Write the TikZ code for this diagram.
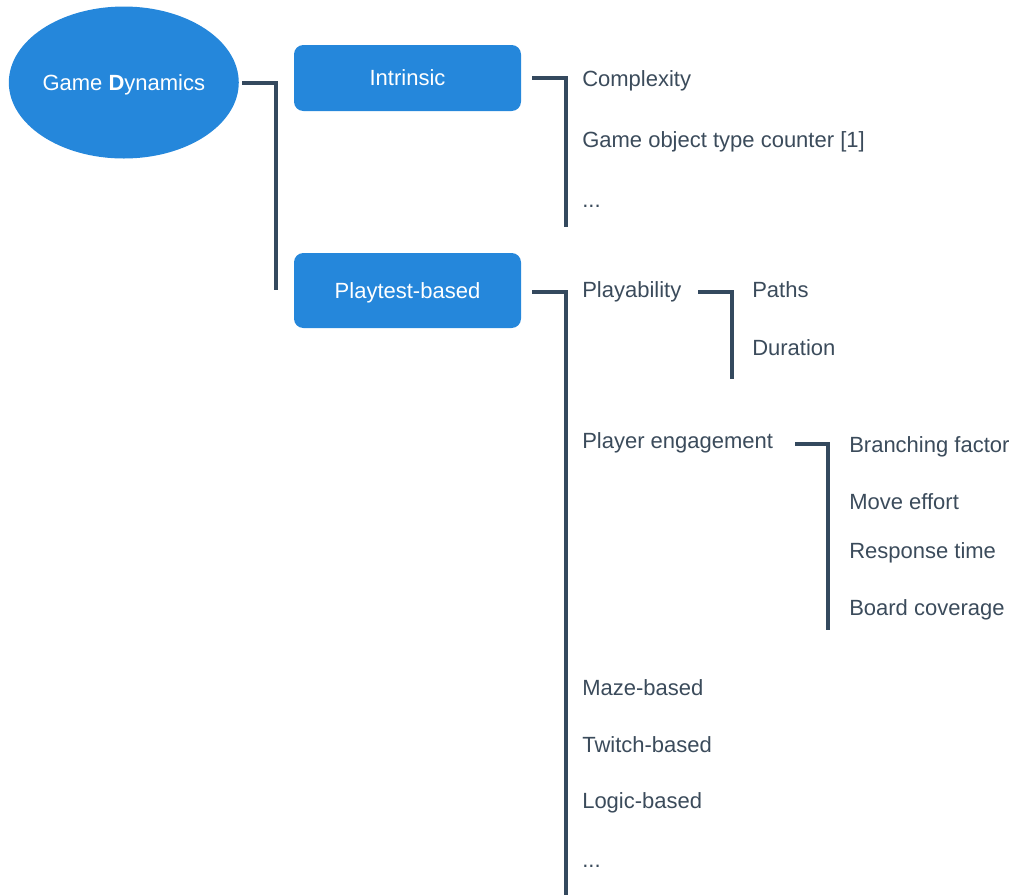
\documentclass[tikz,border=0pt]{standalone}
\usepackage{fontspec}
\setmainfont{Liberation Sans}
\usetikzlibrary{shapes.geometric}
\definecolor{gdblue}{HTML}{2587DB}
\definecolor{slate}{HTML}{34495E}
\definecolor{txt}{HTML}{3B4B5B}
\tikzset{
  conn/.style={draw=slate, line width=3pt},
  rootnode/.style={ellipse, fill=gdblue, draw=none, minimum width=227*0.75pt, minimum height=152*0.75pt, inner sep=0pt, text=white, font=\fontsize{16.5pt}{19pt}\selectfont, text height=11.8pt, text depth=0pt},
  catbox/.style={rectangle, rounded corners=7pt, fill=gdblue, draw=none, minimum width=227*0.75pt, inner sep=0pt, text=white, font=\fontsize{16.5pt}{19pt}\selectfont, text height=11.8pt, text depth=0pt},
  leaf/.style={anchor=base west, inner sep=0pt, text=txt, font=\fontsize{16.5pt}{19pt}\selectfont},
}
\begin{document}
\begin{tikzpicture}[x=0.75pt, y=-0.75pt]
\useasboundingbox (0,0) rectangle (1018,894);
% root
\node[rootnode] (gd) at (123.8,82.5) {Game \textbf{D}ynamics};
% categories
\node[catbox, minimum height=66*0.75pt] (intr) at (407.5,78) {Intrinsic};
\node[catbox, minimum height=75*0.75pt] (play) at (407.5,290.5) {Playtest-based};
% leaves under Intrinsic
\node[leaf] (cplx) at (582,86) {Complexity};
\node[leaf] (gotc) at (582,147) {Game object type counter [1]};
\node[leaf] (idots) at (582,207) {...};
% leaves under Playtest-based
\node[leaf] (playab) at (582,297) {Playability};
\node[leaf] (paths) at (752,297) {Paths};
\node[leaf] (dur) at (752,355) {Duration};
\node[leaf] (engage) at (582,448) {Player engagement};
\node[leaf] (branch) at (849,452) {Branching factor};
\node[leaf] (move) at (849,509) {Move effort};
\node[leaf] (resp) at (849,558) {Response time};
\node[leaf] (board) at (849,615) {Board coverage};
\node[leaf] (maze) at (582,695) {Maze-based};
\node[leaf] (twitch) at (582,752) {Twitch-based};
\node[leaf] (logic) at (582,808) {Logic-based};
\node[leaf] (pdots) at (582,867) {...};
% bracket coordinates
\coordinate (s0) at (242,83);
\coordinate (e0) at (276,290);
\coordinate (s1) at (532,78);
\coordinate (e1) at (566,227);
\coordinate (s2) at (532,292);
\coordinate (e2) at (566,896);
\coordinate (s3) at (698,292);
\coordinate (e3) at (732,379);
\coordinate (s4) at (795,444);
\coordinate (e4) at (828,630);
% connectors
\draw[conn] (s0) -| (e0);
\draw[conn] (s1) -| (e1);
\draw[conn] (s2) -| (e2);
\draw[conn] (s3) -| (e3);
\draw[conn] (s4) -| (e4);
\end{tikzpicture}
\end{document}
